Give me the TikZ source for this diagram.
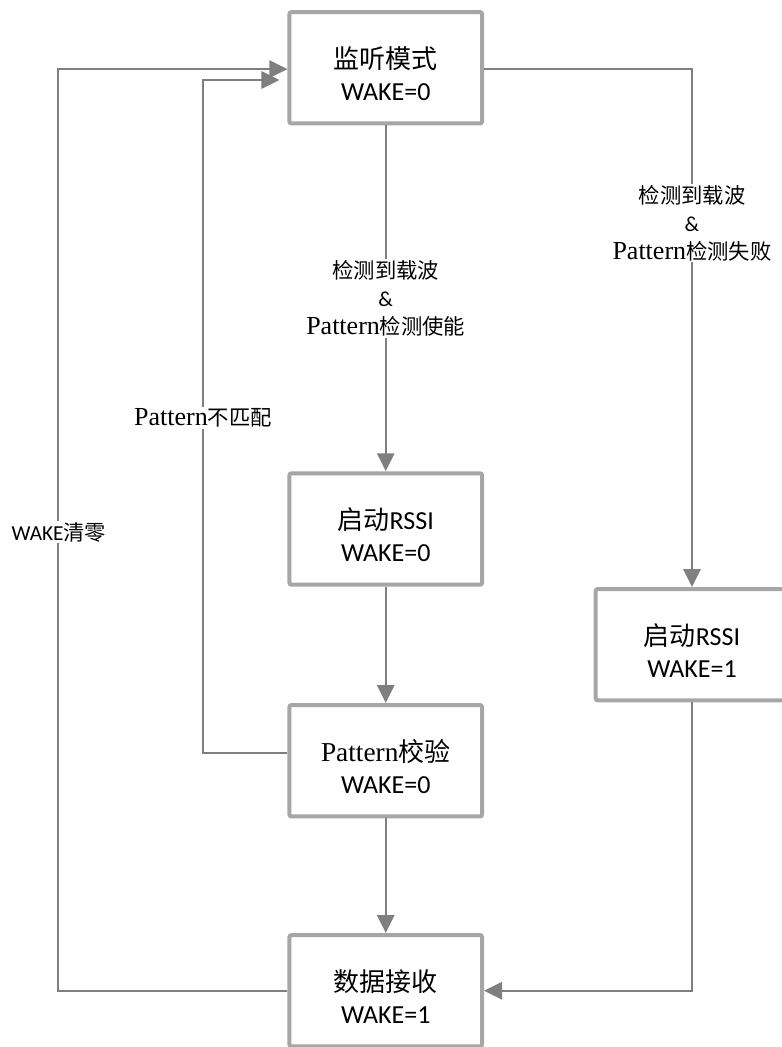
\documentclass[tikz,border=0pt]{standalone}
\usepackage{fontspec}
\setmainfont{Liberation Serif}
\newfontfamily\cjkfont{Noto Sans CJK SC}
\newfontfamily\calfont{Carlito}
\usetikzlibrary{arrows.meta}
\definecolor{linegray}{HTML}{7F7F7F}
\definecolor{boxgray}{HTML}{A6A6A6}
\newcommand{\pat}{{\fontsize{19.5}{21}\selectfont Pattern}}
\newcommand{\lift}{\rule{0pt}{25pt}}

\begin{document}
\begin{tikzpicture}[x=0.75pt,y=-0.75pt,
  state/.style={draw=boxgray,line width=3pt,rounded corners=1.5pt,fill=white,
    minimum width=144.4pt,minimum height=83.6pt,inner sep=0pt,align=center,
    font=\fontsize{19.5}{24}\selectfont},
  link/.style={draw=linegray,line width=1.5pt},
  arr/.style={link,-{Triangle[length=13.5pt,width=13pt]}},
  cond/.style={fill=white,inner sep=1pt,align=center,font=\fontsize{16}{21}\selectfont}]
\useasboundingbox (0,0) rectangle (782,1047);
% states
\node[state] (listen) at (385.75,67.75) {\lift{\cjkfont 监听模式}\\{\calfont WAKE=0}};
\node[state] (rssi0) at (385.75,529) {\lift{\cjkfont 启动}{\calfont RSSI}\\{\calfont WAKE=0}};
\node[state] (check) at (385.75,760.75) {\lift{\fontsize{20.5}{24}\selectfont Pattern}{\cjkfont 校验}\\{\calfont WAKE=0}};
\node[state] (recv) at (385.75,990.75) {\lift{\cjkfont 数据接收}\\{\calfont WAKE=1}};
\node[state] (rssi1) at (692,644.75) {\lift{\cjkfont 启动}{\calfont RSSI}\\{\calfont WAKE=1}};
% turning points of the loops
\coordinate (outerL) at (58,0);
\coordinate (innerL) at (203,0);
\coordinate (inOuter) at ([yshift=-1pt]listen.west);
\coordinate (inInner) at ([yshift=-9.2pt]listen.west);
% main column
\draw[arr] (listen) -- (rssi0)
  node[cond,midway] (enable) {{\cjkfont 检测到载波}\\{\calfont\&}\\\pat{\cjkfont 检测使能}};
\draw[arr] (rssi0) -- (check);
\draw[arr] (check) -- (recv);
% right branch
\draw[arr] ([yshift=-1pt]listen.east) -| (rssi1.north);
\node[cond] (fail) at (692,223) {{\cjkfont 检测到载波}\\{\calfont\&}\\\pat{\cjkfont 检测失败}};
\draw[arr] (rssi1.south) |- (recv.east);
% loops back
\draw[arr] (recv.west) -| (outerL |- inOuter) -- (inOuter);
\node[cond] (clear) at (59,532) {{\calfont WAKE}{\cjkfont 清零}};
\draw[arr,shorten >=6pt] ([yshift=5.8pt]check.west) -| (innerL |- inInner) -- (inInner);
\node[cond] (nomatch) at (203,418) {\pat{\cjkfont 不匹配}};
\end{tikzpicture}
\end{document}
